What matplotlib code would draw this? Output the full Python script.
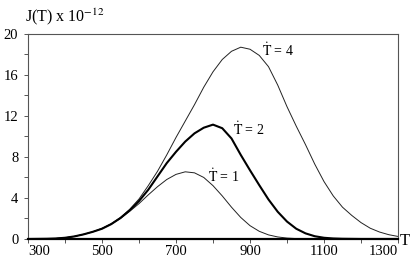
import numpy as np
import matplotlib
matplotlib.use('Agg')
import matplotlib.pyplot as plt
from matplotlib.ticker import MultipleLocator

plt.rcParams['font.family'] = ['Liberation Serif', 'DejaVu Serif']
plt.rcParams['mathtext.fontset'] = 'stix'

# temperature grid (K) and curves
temps = [300, 325, 350, 375, 400, 425, 450, 475, 500, 525, 550, 575, 600, 625,
         650, 675, 700, 725, 750, 775, 800, 825, 850, 875, 900, 925, 950, 975,
         1000, 1025, 1050, 1075, 1100, 1125, 1150, 1175, 1200, 1225, 1250, 1275, 1300]

j_rate1 = [0, 0.01, 0.02, 0.05, 0.12, 0.25, 0.45, 0.7, 1.0, 1.45, 2.0, 2.7, 3.45, 4.3,
           5.1, 5.8, 6.3, 6.55, 6.45, 6.0, 5.2, 4.2, 3.1, 2.1, 1.3, 0.75, 0.4, 0.2,
           0.09, 0.04, 0.015, 0.005, 0, 0, 0, 0, 0, 0, 0, 0, 0]

j_rate2 = [0, 0.01, 0.02, 0.05, 0.12, 0.25, 0.45, 0.7, 1.0, 1.45, 2.05, 2.8, 3.7, 4.8,
           6.1, 7.4, 8.5, 9.5, 10.3, 10.85, 11.15, 10.8, 9.8, 8.2, 6.7, 5.25, 3.85, 2.65,
           1.7, 1.0, 0.55, 0.27, 0.12, 0.05, 0.02, 0.01, 0, 0, 0, 0, 0]

j_rate4 = [0, 0.01, 0.02, 0.05, 0.12, 0.25, 0.45, 0.7, 1.05, 1.5, 2.1, 2.9, 3.9, 5.2,
           6.6, 8.2, 9.9, 11.5, 13.1, 14.8, 16.3, 17.5, 18.3, 18.7, 18.5, 17.9, 16.8, 15.0,
           12.9, 11.0, 9.2, 7.3, 5.6, 4.2, 3.1, 2.3, 1.6, 1.05, 0.68, 0.42, 0.25]

x_ticks = [300, 500, 700, 900, 1100, 1300]
y_ticks = [0, 4, 8, 12, 16, 20]

fig = plt.figure(figsize=(4.12, 2.61), dpi=100)
ax = fig.add_axes([0.068, 0.0843, 0.898, 0.786])

ax.plot(temps, j_rate1, color='#222222', lw=0.7)
ax.plot(temps, j_rate4, color='#222222', lw=0.7)
ax.plot(temps, j_rate2, color='black', lw=1.5)

ax.set_xlim(300, 1300)
ax.set_ylim(0, 20)
ax.set_xticks(x_ticks)
ax.set_yticks(y_ticks)
ax.xaxis.set_minor_locator(MultipleLocator(100))
ax.yaxis.set_minor_locator(MultipleLocator(2))
ax.tick_params(which='both', direction='out', labelsize=10.5, length=3, width=0.7,
               color='#555555')
ax.tick_params(axis='x', pad=1.5)
ax.tick_params(axis='y', pad=4)
xl = ax.get_xticklabels()
xl[0].set_ha('left')
xl[-1].set_ha('right')

for side in ['top', 'right', 'left']:
    ax.spines[side].set_linewidth(0.8)
    ax.spines[side].set_color('#555555')
ax.spines['bottom'].set_linewidth(1.6)

fs = 10
ax.text(932, 18.4, r'$\dot{\mathrm{T}}$ = 4', fontsize=fs, va='center', ha='left')
ax.text(854, 10.7, r'$\dot{\mathrm{T}}$ = 2', fontsize=fs, va='center', ha='left')
ax.text(786, 6.1, r'$\dot{\mathrm{T}}$ = 1', fontsize=fs, va='center', ha='left')

fig.text(25 / 412, 1 - 21 / 261, r'J(T) x 10$^{-12}$', fontsize=11.5, ha='left', va='baseline')
fig.text(400 / 412, 1 - 245 / 261, 'T', fontsize=12, ha='left', va='baseline')

fig.savefig('out.png', dpi=100)
